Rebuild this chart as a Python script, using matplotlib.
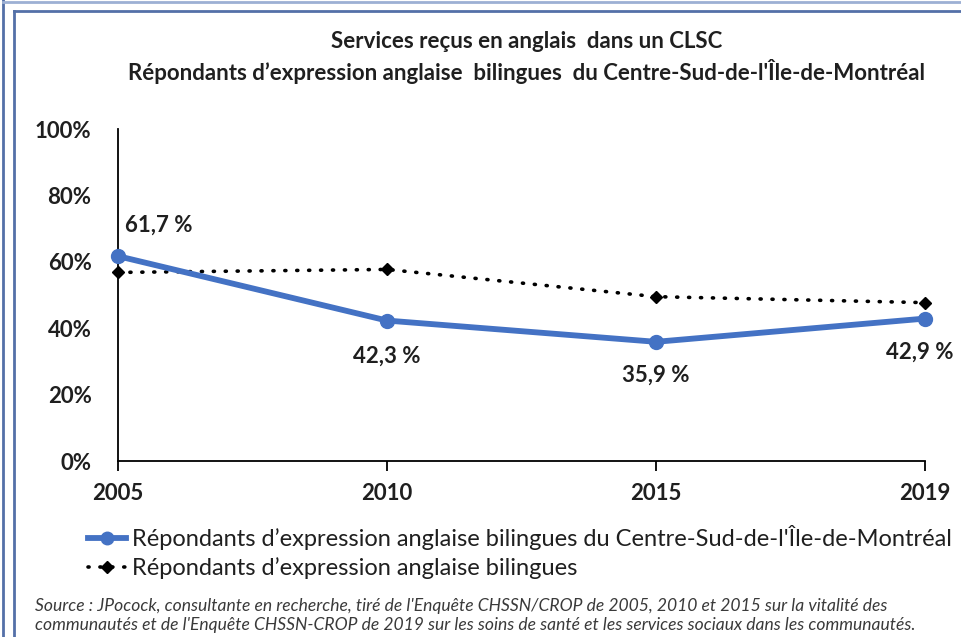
import matplotlib
matplotlib.use("Agg")
import matplotlib.pyplot as plt
from matplotlib.lines import Line2D

plt.rcParams['font.family'] = ['Lato', 'DejaVu Sans']

years = ['2005', '2010', '2015', '2019']
centre_sud = [61.7, 42.3, 35.9, 42.9]
bilingues = [56.8, 57.7, 49.5, 47.7]
value_labels = ['61,7 %', '42,3 %', '35,9 %', '42,9 %']
yticks = [0, 20, 40, 60, 80, 100]

title = ("Services reçus en anglais  dans un CLSC\n"
         "Répondants d\u2019expression anglaise  bilingues  du Centre-Sud-de-l'Île-de-Montréal")
label_a = "Répondants d\u2019expression anglaise bilingues du Centre-Sud-de-l'Île-de-Montréal"
label_b = "Répondants d\u2019expression anglaise bilingues"
source = ("Source : JPocock, consultante en recherche, tiré de l'Enquête CHSSN/CROP de 2005, 2010 et 2015 sur la vitalité des\n"
          "communautés et de l'Enquête CHSSN-CROP de 2019 sur les soins de santé et les services sociaux dans les communautés.")

blue = '#4472C4'
text_col = '#1f1f1f'
frame_col = '#5470a8'
dotted = (0, (0.3, 3.0))

fig = plt.figure(figsize=(9.61, 6.37), dpi=100)
ax = fig.add_axes([118 / 961, 1 - 461 / 637, (925 - 118) / 961, (461 - 129) / 637])

x = list(range(len(years)))
ax.plot(x, bilingues, color='black', linestyle=dotted, dash_capstyle='round',
        linewidth=2.6, marker='D', markersize=6, clip_on=False, zorder=3, label=label_b)
ax.plot(x, centre_sud, color=blue, linewidth=4.2, marker='o', markersize=10,
        clip_on=False, zorder=4, label=label_a)

ax.set_xlim(0, 3)
ax.set_ylim(0, 100)
ax.set_xticks(x)
ax.set_xticklabels(years)
ax.set_yticks(yticks)
ax.set_yticklabels([f'{v}%' for v in yticks])
for sp in ['top', 'right']:
    ax.spines[sp].set_visible(False)
for sp in ['left', 'bottom']:
    ax.spines[sp].set_linewidth(1.3)
ax.tick_params(axis='x', direction='out', length=7, width=1.3, pad=9,
               labelsize=16, labelcolor=text_col)
ax.tick_params(axis='y', length=0, pad=19, labelsize=16, labelcolor=text_col)
for t in ax.get_xticklabels() + ax.get_yticklabels():
    t.set_fontweight('bold')

# data labels
offsets = [(5, 22, 'left'), (0, -26, 'center'), (0, -24, 'center'), (-4, -24, 'center')]
for xi, yi, lab, (dx, dy, ha) in zip(x, centre_sud, value_labels, offsets):
    ax.annotate(lab, (xi, yi), xytext=(dx, dy), textcoords='offset points',
                ha=ha, va='center', fontsize=16, fontweight='bold', color=text_col,
                annotation_clip=False)

fig.text(527 / 961, 1 - 57.5 / 637, title, ha='center', va='center', fontsize=16,
         fontweight='bold', color=text_col, linespacing=1.35)

# legend
h_a = Line2D([], [], color=blue, linewidth=4.2, marker='o', markersize=9)
h_b = Line2D([], [], color='black', linestyle=dotted, dash_capstyle='round',
             linewidth=2.6, marker='D', markersize=6)
fig.legend([h_a, h_b], [label_a, label_b], loc='upper left',
           bbox_to_anchor=(88 / 961, 1 - 525 / 637), frameon=False, fontsize=17,
           handlelength=1.6, handletextpad=0.25, labelspacing=0.3, borderaxespad=0,
           borderpad=0, labelcolor=text_col)

fig.text(35 / 961, 1 - 615.5 / 637, source, ha='left', va='center', fontsize=12.6,
         style='italic', color='#3a3a3a', linespacing=1.3)

# page frame lines
fig.add_artist(Line2D([2.5 / 961, 2.5 / 961], [0, 1], color=frame_col, linewidth=2,
                      transform=fig.transFigure))
fig.add_artist(Line2D([2.5 / 961, 1], [1 - 2 / 637, 1 - 2 / 637], color='#9db0d4',
                      linewidth=2, transform=fig.transFigure))
fig.add_artist(Line2D([13.5 / 961, 13.5 / 961], [0, 1 - 11 / 637], color=frame_col,
                      linewidth=2, transform=fig.transFigure))
fig.add_artist(Line2D([13.5 / 961, 1], [1 - 11 / 637, 1 - 11 / 637], color=frame_col,
                      linewidth=2, transform=fig.transFigure))

fig.savefig('out.png', dpi=100)
plt.close(fig)
